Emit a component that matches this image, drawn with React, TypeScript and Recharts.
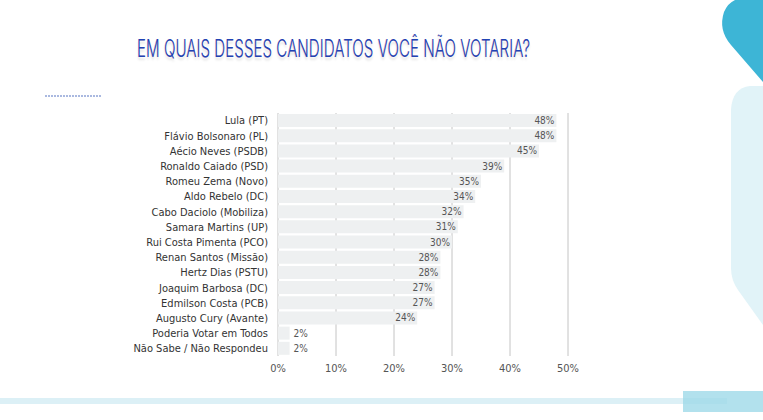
import React from 'react';
import {
  BarChart,
  Bar,
  XAxis,
  YAxis,
  CartesianGrid,
  LabelList,
} from 'recharts';

// Rejeição por candidato (%), na ordem do gráfico original.
const CANDIDATES = [
  'Lula (PT)',
  'Flávio Bolsonaro (PL)',
  'Aécio Neves (PSDB)',
  'Ronaldo Caiado (PSD)',
  'Romeu Zema (Novo)',
  'Aldo Rebelo (DC)',
  'Cabo Daciolo (Mobiliza)',
  'Samara Martins (UP)',
  'Rui Costa Pimenta (PCO)',
  'Renan Santos (Missão)',
  'Hertz Dias (PSTU)',
  'Joaquim Barbosa (DC)',
  'Edmilson Costa (PCB)',
  'Augusto Cury (Avante)',
  'Poderia Votar em Todos',
  'Não Sabe / Não Respondeu',
];
const REJECTION = [48, 48, 45, 39, 35, 34, 32, 31, 30, 28, 28, 27, 27, 24, 2, 2];
const X_TICKS = [0, 10, 20, 30, 40, 50];

const TITLE = 'EM QUAIS DESSES CANDIDATOS VOCÊ NÃO VOTARIA?';

const FONT =
  '"DejaVu Sans Condensed", "Liberation Sans Narrow", "Roboto Condensed", Roboto, sans-serif';

const data = CANDIDATES.map((name, i) => ({ name, value: REJECTION[i] }));

// Valores grandes ficam dentro da barra, no fim; os pequenos ficam do lado de fora.
const ValueLabel = (props: any) => {
  const { x, y, width, height, value } = props;
  const inside = value > 5;
  return (
    <text
      x={inside ? x + width - 2 : x + width + 4}
      y={y + height / 2}
      dy="0.35em"
      textAnchor={inside ? 'end' : 'start'}
      fontSize={10}
      fill="#555"
      fontFamily={FONT}
    >
      {value}%
    </text>
  );
};

export default function App() {
  return (
    <div
      style={{
        position: 'absolute',
        left: 0,
        top: 0,
        width: 763,
        height: 420,
        overflow: 'hidden',
        background: '#fff',
      }}
    >
      {/* decorações do slide */}
      <svg
        width={763}
        height={420}
        style={{ position: 'absolute', left: 0, top: 0 }}
      >
        <path
          d="M735 0 L763 0 L763 82 L731 45 Q718 30 724 12 Q728 3 735 0 Z"
          fill="#3db5d6"
        />
        <path
          d="M763 86 L750 86 Q732 88 731 110 L731 268 Q731 280 738 290 L763 325 Z"
          fill="#e1f3f8"
        />
        <rect x={0} y={398} width={727} height={6} fill="#dcf0f6" />
        <rect x={683} y={391} width={80} height={21} fill="#9fd9e8" opacity={0.8} />
        <line
          x1={45}
          y1={96}
          x2={102}
          y2={96}
          stroke="#8ea3d6"
          strokeWidth={1.5}
          strokeDasharray="2 1"
        />
        <text
          x={137}
          y={57}
          fontFamily='Inter, "Open Sans", sans-serif'
          fontWeight={300}
          fontSize={24}
          fill="#2143b4"
          textLength={393}
          lengthAdjust="spacingAndGlyphs"
          style={{ textShadow: '-0.5px 0 0 rgba(220,70,70,0.3), 0 3px 3px rgba(0,0,0,0.12)' }}
        >
          {TITLE}
        </text>
      </svg>

      <div style={{ position: 'absolute', left: 0, top: 0 }}>
        <BarChart
          width={763}
          height={420}
          data={data}
          layout="vertical"
          margin={{ top: 113, right: 195, bottom: 34, left: 0 }}
          barCategoryGap={1}
        >
          <CartesianGrid horizontal={false} stroke="#c4c4c4" />
          <XAxis
            type="number"
            domain={[0, 50]}
            ticks={X_TICKS}
            tickFormatter={(v: number) => `${v}%`}
            axisLine={false}
            tickLine={false}
            height={30}
            tick={{ fill: '#555', fontSize: 11, fontFamily: FONT }}
          />
          <YAxis
            type="category"
            dataKey="name"
            width={278}
            axisLine={false}
            tickLine={false}
            tickMargin={4}
            interval={0}
            tick={{ fill: '#333', fontSize: 11, fontFamily: FONT }}
          />
          <Bar dataKey="value" fill="#eef0f1" isAnimationActive={false}>
            <LabelList dataKey="value" content={ValueLabel} />
          </Bar>
        </BarChart>
      </div>
    </div>
  );
}
